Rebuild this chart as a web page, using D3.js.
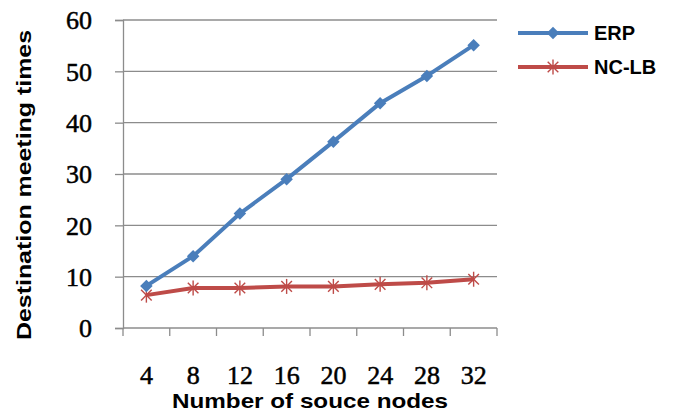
<!DOCTYPE html>
<html>
<head>
<meta charset="utf-8">
<script src="https://cdn.jsdelivr.net/npm/d3@7"></script>
<style>
  html, body { margin: 0; padding: 0; background: #fff; }
  svg { display: block; }
  text { font-family: "Liberation Sans", Arial, sans-serif; font-weight: bold; fill: #000; }
  text.num { font-family: "Liberation Serif", "DejaVu Serif", serif; font-weight: normal; font-size: 26px;
         stroke: #000; stroke-width: 0.5px; }
</style>
</head>
<body>
<svg id="chart" width="691" height="413"></svg>
<script>
// Source-node counts on the x axis
const categories = ["4", "8", "12", "16", "20", "24", "28", "32"];
// Destination meeting times per protocol
const erpValues = [8.2, 14.0, 22.3, 29.0, 36.3, 43.8, 49.1, 55.1];
const nclbValues = [6.4, 7.8, 7.8, 8.1, 8.1, 8.5, 8.8, 9.5];
const yTicks = [0, 10, 20, 30, 40, 50, 60];
const seriesNames = ["ERP", "NC-LB"];

const svg = d3.select("#chart");
const plotLeft = 123, plotRight = 497, plotTop = 20, plotBottom = 328;
const gridColor = "#8c8c8c";

const x = d3.scaleBand().domain(categories).range([plotLeft, plotRight]);
const y = d3.scaleLinear().domain([0, 60]).range([plotBottom, plotTop]);

// horizontal gridlines
svg.append("g").selectAll("line").data(yTicks.slice(1)).join("line")
  .attr("x1", plotLeft).attr("x2", plotRight)
  .attr("y1", d => y(d)).attr("y2", d => y(d))
  .attr("stroke", gridColor).attr("stroke-width", 1.3);

// y axis
const yAxis = svg.append("g").attr("transform", `translate(${plotLeft},0)`)
  .call(d3.axisLeft(y).tickValues(yTicks).tickSize(8).tickPadding(23));
yAxis.attr("font-size", null).attr("font-family", null);
yAxis.select(".domain").attr("stroke", gridColor).attr("stroke-width", 1.3);
yAxis.selectAll(".tick line").attr("stroke", gridColor).attr("stroke-width", 1.3);
yAxis.selectAll(".tick text").attr("class", "num").attr("fill", "#000").attr("dy", "0.34em");

// x axis: ticks at the band edges, labels centered in the bands
const xAxisG = svg.append("g").attr("transform", `translate(0,${plotBottom})`);
xAxisG.append("line").attr("x1", plotLeft).attr("x2", plotRight)
  .attr("stroke", gridColor).attr("stroke-width", 1.3);
const edges = categories.map(c => x(c)).concat([plotRight]);
xAxisG.selectAll("line.tk").data(edges).join("line").attr("class", "tk")
  .attr("x1", d => d).attr("x2", d => d).attr("y1", 0).attr("y2", 8)
  .attr("stroke", gridColor).attr("stroke-width", 1.3);
xAxisG.selectAll("text").data(categories).join("text")
  .attr("class", "num")
  .attr("x", d => x(d) + x.bandwidth() / 2).attr("y", 56)
  .attr("text-anchor", "middle")
  .text(d => d);

// axis titles
svg.append("text").attr("x", 310).attr("y", 408).attr("text-anchor", "middle")
  .style("font-size", "21px").attr("textLength", 276).attr("lengthAdjust", "spacingAndGlyphs")
  .text("Number of souce nodes");
svg.append("text").attr("transform", "translate(31,185) rotate(-90)").attr("text-anchor", "middle")
  .style("font-size", "21px").attr("textLength", 310).attr("lengthAdjust", "spacingAndGlyphs")
  .text("Destination meeting times");

const cx = d => x(d) + x.bandwidth() / 2;
const line = d3.line().x(d => cx(d.c)).y(d => y(d.v));

const erp = categories.map((c, i) => ({ c, v: erpValues[i] }));
const nclb = categories.map((c, i) => ({ c, v: nclbValues[i] }));
const blue = "#4a7ebb", red = "#be4b48";

// diamond marker: a square turned 45 degrees
const diamond = d3.symbol().type(d3.symbolSquare).size(78);
function asterisk(g, cxp, cyp, r, color) {
  [90, 45, 135].forEach(deg => {
    const a = deg * Math.PI / 180;
    g.append("line")
      .attr("x1", cxp - r * Math.cos(a)).attr("y1", cyp - r * Math.sin(a))
      .attr("x2", cxp + r * Math.cos(a)).attr("y2", cyp + r * Math.sin(a))
      .attr("stroke", color).attr("stroke-width", 1.4);
  });
}

// NC-LB series
svg.append("path").datum(nclb).attr("d", line).attr("fill", "none")
  .attr("stroke", red).attr("stroke-width", 4).attr("stroke-linejoin", "round");
const nclbMarks = svg.append("g");
nclb.forEach(d => asterisk(nclbMarks, cx(d.c), y(d.v), 7.5, red));

// ERP series
svg.append("path").datum(erp).attr("d", line).attr("fill", "none")
  .attr("stroke", blue).attr("stroke-width", 4).attr("stroke-linejoin", "round");
svg.append("g").selectAll("path").data(erp).join("path")
  .attr("transform", d => `translate(${cx(d.c)},${y(d.v)}) rotate(45)`)
  .attr("d", diamond).attr("fill", blue);

// legend
const legend = svg.append("g");
const legendRows = [
  { name: seriesNames[0], color: blue, yy: 33, base: 40 },
  { name: seriesNames[1], color: red, yy: 67, base: 74 }
];
legendRows.forEach((r, i) => {
  legend.append("line").attr("x1", 518).attr("x2", 588).attr("y1", r.yy).attr("y2", r.yy)
    .attr("stroke", r.color).attr("stroke-width", 4);
  if (i === 0) {
    legend.append("path").attr("transform", `translate(553,${r.yy}) rotate(45)`).attr("d", diamond).attr("fill", blue);
  } else {
    asterisk(legend, 553, r.yy, 7.5, red);
  }
  legend.append("text").attr("x", 594).attr("y", r.base).style("font-size", "20px")
    .text(r.name);
});
</script>
</body>
</html>
